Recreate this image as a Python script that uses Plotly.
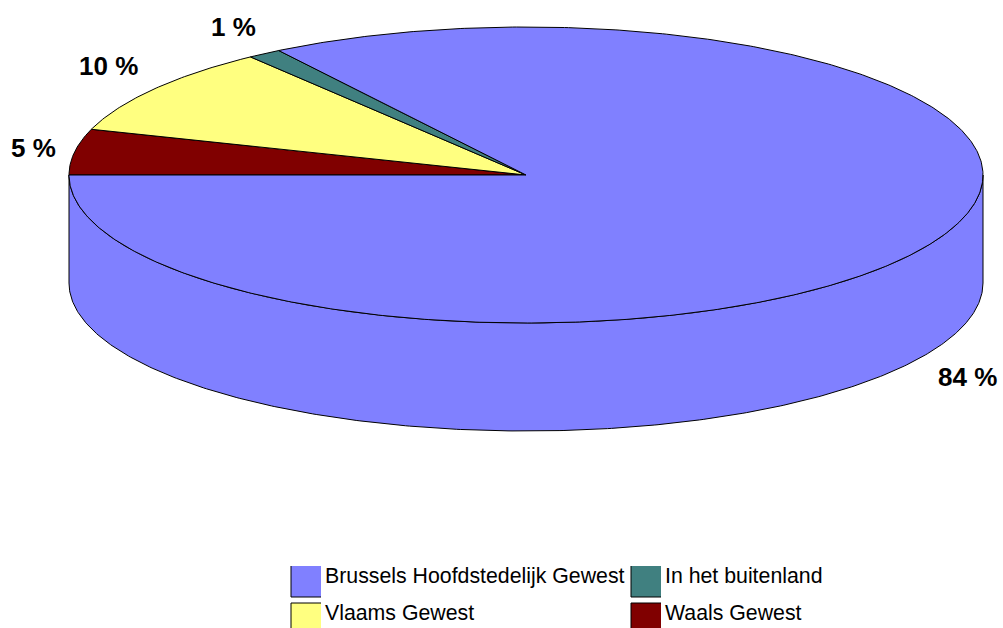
"""
3D-look pie chart of Gewest shares (drawn as projected wedges)
"""
import numpy as np
import plotly.graph_objects as go

# Slices in drawing order, clockwise from the left edge of the pie
labels = ['Waals Gewest', 'Vlaams Gewest', 'In het buitenland', 'Brussels Hoofdstedelijk Gewest']
values = [5.0, 9.7, 1.2, 84.1]
colors = ['#800000', '#FFFF80', '#408080', '#8080FF']
value_labels = ['5 %', '10 %', '1 %', '84 %']

# Pie geometry in page pixels
CX, CY = 526, 175
RX, RY = 457, 148
DEPTH = 108

label_pos = [(33, 148), (108, 66), (233, 27), (967, 377)]

# Legend order as in the reference: name -> swatch left, swatch top
legend_items = [
    ('Brussels Hoofdstedelijk Gewest', 291, 566),
    ('In het buitenland', 631, 566),
    ('Vlaams Gewest', 291, 603),
    ('Waals Gewest', 631, 603),
]


def rim(start_deg, end_deg, dy=0):
    """Points along the ellipse, angle measured counter-clockwise from the right"""
    n = max(int(abs(end_deg - start_deg) * 2), 2)
    t = np.radians(np.linspace(start_deg, end_deg, n))
    return CX + RX * np.cos(t), CY - RY * np.sin(t) + dy


fig = go.Figure()

# Side wall below the front half of the rim
xf, yf = rim(180, 360)
xb, yb = rim(360, 180, DEPTH)
fig.add_trace(go.Scatter(
    x=np.concatenate([xf, xb, xf[:1]]),
    y=np.concatenate([yf, yb, yf[:1]]),
    mode='lines',
    fill='toself',
    fillcolor='#8080FF',
    line=dict(color='black', width=1),
    hoverinfo='skip',
))

# Top face wedges
angle = 180.0
total = sum(values)
for label, value, color in zip(labels, values, colors):
    sweep = 360.0 * value / total
    x, y = rim(angle, angle - sweep)
    fig.add_trace(go.Scatter(
        x=np.concatenate([[CX], x, [CX]]),
        y=np.concatenate([[CY], y, [CY]]),
        mode='lines',
        fill='toself',
        fillcolor=color,
        line=dict(color='black', width=1),
        name=label,
        hoverinfo='name',
    ))
    angle -= sweep

for text, (x, y) in zip(value_labels, label_pos):
    fig.add_annotation(
        x=x, y=y, text='<b>' + text + '</b>', showarrow=False,
        font=dict(family='Liberation Sans', size=26, color='black'),
    )

# Legend is laid out by hand to get the large square keys
for name, left, top in legend_items:
    color = colors[labels.index(name)]
    fig.add_shape(
        type='rect', x0=left, x1=left + 30, y0=top, y1=top + 31,
        fillcolor=color, line=dict(width=0), layer='above',
    )
    edge_y = top + 31 if top < 600 else top
    fig.add_shape(type='line', x0=left, x1=left + 30, y0=edge_y, y1=edge_y,
                  line=dict(color='black', width=1))
    fig.add_shape(type='line', x0=left, x1=left, y0=top, y1=top + 31,
                  line=dict(color='black', width=1))
    fig.add_annotation(
        x=left + 32, y=top + 10, text=name, showarrow=False, xanchor='left',
        font=dict(family='Liberation Sans', size=21.3, color='black'),
    )

fig.update_layout(
    width=1003,
    height=628,
    showlegend=False,
    margin=dict(l=0, r=0, t=0, b=0),
    paper_bgcolor='white',
    plot_bgcolor='white',
    xaxis=dict(range=[0, 1003], visible=False, fixedrange=True),
    yaxis=dict(range=[628, 0], visible=False, fixedrange=True),
)

# Page body has a default margin that would push the chart off the window
fig.write_html("out.html", post_script="document.body.style.margin = '0'; document.body.style.overflow = 'hidden';",
               config=dict(displayModeBar=False))
